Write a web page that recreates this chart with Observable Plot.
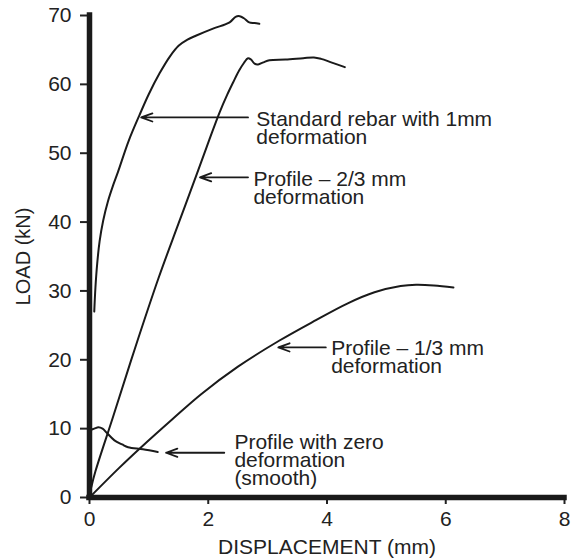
<!DOCTYPE html>
<html><head><meta charset="utf-8">
<script src="https://cdn.jsdelivr.net/npm/d3@7"></script>
<script src="https://cdn.jsdelivr.net/npm/@observablehq/plot@0.6"></script>
<style>body{margin:0;background:#fff}</style>
</head><body><div id="chart"></div>
<script>
// Load–displacement curves (displacement mm, load kN)
const standardRebar = [[0.08,27],[0.1,30.5],[0.13,34],[0.17,37.2],[0.23,40.2],[0.31,43],[0.4,45.4],[0.48,47.3],[0.66,51.8],[0.84,55.5],[1.0,58.6],[1.18,61.6],[1.35,64],[1.5,65.6],[1.65,66.5],[1.8,67.1],[2.08,68.1],[2.36,69.0],[2.46,69.8],[2.53,69.9],[2.6,69.6],[2.69,69.0],[2.78,68.9],[2.86,68.8]];
const profileTwoThirds = [[0.03,1.5],[0.1,3.8],[0.4,11.8],[0.76,21.5],[1.16,31.8],[1.5,39.8],[1.83,47.5],[2.02,52.0],[2.19,55.9],[2.32,58.5],[2.42,60.3],[2.52,62.0],[2.6,63.1],[2.67,63.8],[2.72,63.6],[2.78,63.0],[2.84,62.9],[2.93,63.2],[3.03,63.5],[3.3,63.6],[3.6,63.8],[3.78,63.9],[3.9,63.7],[4.07,63.2],[4.3,62.5]];
const profileOneThird = [[0,0],[0.5,4.3],[0.87,7.3],[1.4,11.4],[1.88,15],[2.5,19],[3.2,22.8],[3.78,25.6],[4.35,28.2],[4.8,29.8],[5.24,30.7],[5.5,30.9],[5.8,30.8],[6.13,30.5]];
const profileSmooth = [[0.01,9.8],[0.08,10],[0.15,10.2],[0.22,10],[0.29,9.4],[0.42,8.3],[0.55,7.7],[0.65,7.3],[0.9,7.0],[1.15,6.6]];

const seriesNames = ["Standard rebar", "Profile 2/3", "Profile 1/3", "Profile smooth"];
const seriesPoints = [standardRebar, profileTwoThirds, profileOneThird, profileSmooth];

// Annotation labels (anchor in data units) and their arrows
const labelText = ["Standard rebar with 1mm\ndeformation", "Profile – 2/3 mm\ndeformation", "Profile – 1/3 mm\ndeformation", "Profile with zero\ndeformation\n(smooth)"];
const labelX = [2.81, 2.76, 4.07, 2.44];
const labelY = [55.9, 47.1, 22.65, 9.0];
const arrowFromX = [2.67, 2.67, 3.98, 2.27];
const arrowToX = [0.87, 1.86, 3.18, 1.29];
const arrowY = [55.2, 46.5, 21.8, 6.5];

const xTicks = [0, 2, 4, 6, 8];
const yTicks = [0, 10, 20, 30, 40, 50, 60, 70];
const xTitle = "DISPLACEMENT (mm)";
const yTitle = "LOAD (kN)";

const lineData = seriesNames.flatMap((name, i) => seriesPoints[i].map(([x, y]) => ({series: name, x, y})));
const labels = labelText.map((text, i) => ({text, x: labelX[i], y: labelY[i]}));
const arrows = arrowY.map((y, i) => ({x1: arrowFromX[i], x2: arrowToX[i], y}));

const ink = "#1a1a1a";
const chart = Plot.plot({
  width: 575, height: 559,
  marginLeft: 89, marginRight: 11, marginTop: 15, marginBottom: 62,
  style: {fontFamily: "'Liberation Sans', Arial, sans-serif", fontSize: "21px", color: "#222", background: "#fff"},
  x: {domain: [0, 8], label: null},
  y: {domain: [0, 70], label: null},
  marks: [
    Plot.axisY({ticks: yTicks, tickSize: 9, tickPadding: 9, strokeWidth: 2, label: null, fontSize: 21}),
    Plot.axisX({ticks: xTicks, tickSize: 7, tickPadding: 7, strokeWidth: 2, label: null, fontSize: 21}),
    Plot.line(lineData, {x: "x", y: "y", z: "series", stroke: ink, strokeWidth: 2, curve: "catmull-rom"}),
    Plot.ruleX([0], {stroke: ink, strokeWidth: 5.5, strokeLinecap: "square"}),
    Plot.ruleY([0], {stroke: ink, strokeWidth: 5.5, strokeLinecap: "square"}),
    Plot.arrow(arrows, {x1: "x1", y1: "y", x2: "x2", y2: "y", stroke: ink, strokeWidth: 1.8, headLength: 10, headAngle: 40}),
    Plot.text(labels, {x: "x", y: "y", text: "text", textAnchor: "start", lineAnchor: "top", lineHeight: 0.87, fontSize: 21, fill: "#222"}),
    Plot.text([yTitle], {frameAnchor: "left", dx: -65.5, rotate: -90, textAnchor: "middle", lineAnchor: "middle", fontSize: 20, fill: "#222"}),
    Plot.text([xTitle], {frameAnchor: "bottom", dy: 50, textAnchor: "middle", lineAnchor: "middle", fontSize: 21, fill: "#222"})
  ]
});
document.getElementById("chart").append(chart);
</script>
</body></html>
